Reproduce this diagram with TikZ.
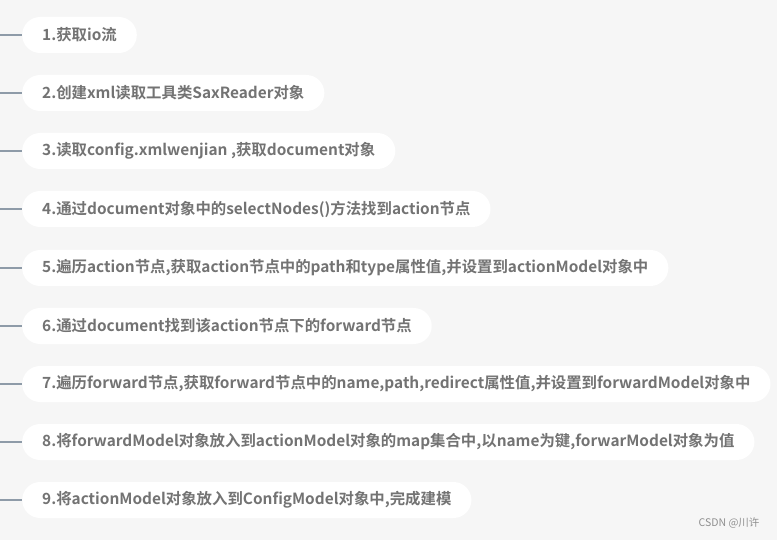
\documentclass[tikz,border=0pt]{standalone}
\usepackage{fontspec}
\setmainfont{Noto Sans CJK SC}[BoldFont={Noto Sans CJK SC Bold}]
\usetikzlibrary{positioning}

\definecolor{bggray}{HTML}{F6F6F6}
\definecolor{txtgray}{HTML}{737373}
\definecolor{linegray}{HTML}{8E9BA8}

\tikzset{
  stepnode/.style={fill=white, rounded corners=18pt, minimum height=36pt,
    inner xsep=20pt, inner ysep=0pt, anchor=west, text=txtgray,
    font=\fontsize{15.4}{17}\selectfont\bfseries},
  branch/.style={draw=linegray, line width=1.2pt}
}

\begin{document}
\begin{tikzpicture}[x=1pt,y=-1pt]

        \fill[bggray] (0,0) rectangle (777,540);
        \useasboundingbox (0,0) rectangle (777,540);

        \node (s1) [stepnode] at (22,35)  {1.获取io流};
        \node (s2) [stepnode] at (22,93)  {2.创建xml读取工具类SaxReader对象};
        \node (s3) [stepnode] at (22,151) {3.读取config.xmlwenjian ,获取document对象};
        \node (s4) [stepnode] at (22,209) {4.通过document对象中的selectNodes()方法找到action节点};
        \node (s5) [stepnode] at (22,268) {5.遍历action节点,获取action节点中的path和type属性值,并设置到actionModel对象中};
        \node (s6) [stepnode] at (22,326) {6.通过document找到该action节点下的forward节点};
        \node (s7) [stepnode] at (22,384) {7.遍历forward节点,获取forward节点中的name,path,redirect属性值,并设置到forwardModel对象中};
        \node (s8) [stepnode] at (22,442) {8.将forwardModel对象放入到actionModel对象的map集合中,以name为键,forwarModel对象为值};
        \node (s9) [stepnode] at (22,500) {9.将actionModel对象放入到ConfigModel对象中,完成建模};

        \foreach \i/\y in {1/35,2/93,3/151,4/209,5/268,6/326,7/384,8/442,9/500} {
            \coordinate (l\i) at (0,\y);
            \draw[branch] (l\i) -- (s\i.west);
        }

        \node (mark) [anchor=east, text=txtgray!80, font=\fontsize{10.5}{12}\selectfont] at (763,523) {CSDN @川许};

    \end{tikzpicture}
\end{document}
